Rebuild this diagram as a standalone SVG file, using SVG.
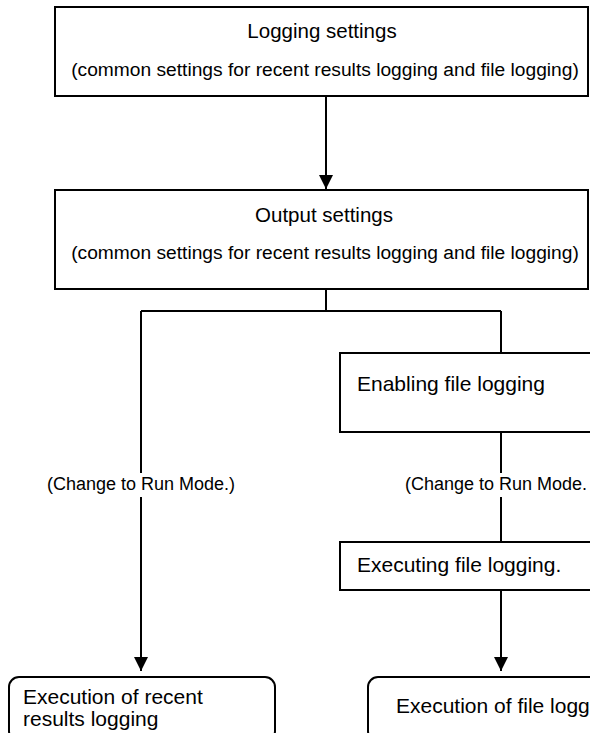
<svg xmlns="http://www.w3.org/2000/svg" width="590" height="733" viewBox="0 0 590 733">
<style>
.box{fill:#fff;stroke:#000;stroke-width:2}
.t{font-family:"Liberation Sans",Arial,sans-serif;font-size:21px;fill:#000}
.h{font-family:"Liberation Sans",Arial,sans-serif;font-size:20.5px;fill:#000}
.s{font-family:"Liberation Sans",Arial,sans-serif;font-size:19.2px;fill:#000}
.c{text-anchor:middle}
.lbl{font-family:"Liberation Sans",Arial,sans-serif;font-size:18px;fill:#000}
.ln{fill:none;stroke:#000;stroke-width:2}
</style>
<defs>
<marker id="ah" markerWidth="14" markerHeight="14" viewBox="0 0 14 14" refX="14" refY="7" orient="auto" markerUnits="userSpaceOnUse">
<path d="M0,0 L14,7 L0,14 Z" fill="#000"/>
</marker>
</defs>
<g id="connectors">
<path class="ln" d="M326,97 V189" marker-end="url(#ah)"/>
<path class="ln" d="M326,289 V311 M141,311 H501"/>
<path class="ln" d="M141,311 V473 M141,497 V671" marker-end="url(#ah)"/>
<path class="ln" d="M501,311 V353"/>
<path class="ln" d="M501,432 V473 M501,497 V542"/>
<path class="ln" d="M501,590 V671" marker-end="url(#ah)"/>
<text class="lbl c" x="141" y="490">(Change to Run Mode.)</text>
<text class="lbl" x="405" y="490">(Change to Run Mode.</text>
</g>
<g id="logging-settings">
<rect class="box" x="55" y="7" width="533" height="89"/>
<text class="h c" x="322" y="38">Logging settings</text>
<text class="s c" x="325" y="76">(common settings for recent results logging and file logging)</text>
</g>
<g id="output-settings">
<rect class="box" x="55" y="190" width="533" height="99"/>
<text class="h c" x="324" y="222">Output settings</text>
<text class="s c" x="325" y="259">(common settings for recent results logging and file logging)</text>
</g>
<g id="enabling-file-logging">
<rect class="box" x="340" y="353" width="260" height="79"/>
<text class="t" x="357" y="391">Enabling file logging</text>
</g>
<g id="executing-file-logging">
<rect class="box" x="340" y="542" width="260" height="48"/>
<text class="t" x="357" y="572">Executing file logging.</text>
</g>
<g id="recent-results">
<rect class="box" x="9" y="677" width="266" height="64" rx="10"/>
<text class="t" x="23" y="704">Execution of recent</text>
<text class="t" x="23" y="726">results logging</text>
</g>
<g id="file-logging-exec">
<rect class="box" x="368" y="677" width="240" height="64" rx="10"/>
<text class="t" x="396" y="713">Execution of file logg</text>
</g>
</svg>
